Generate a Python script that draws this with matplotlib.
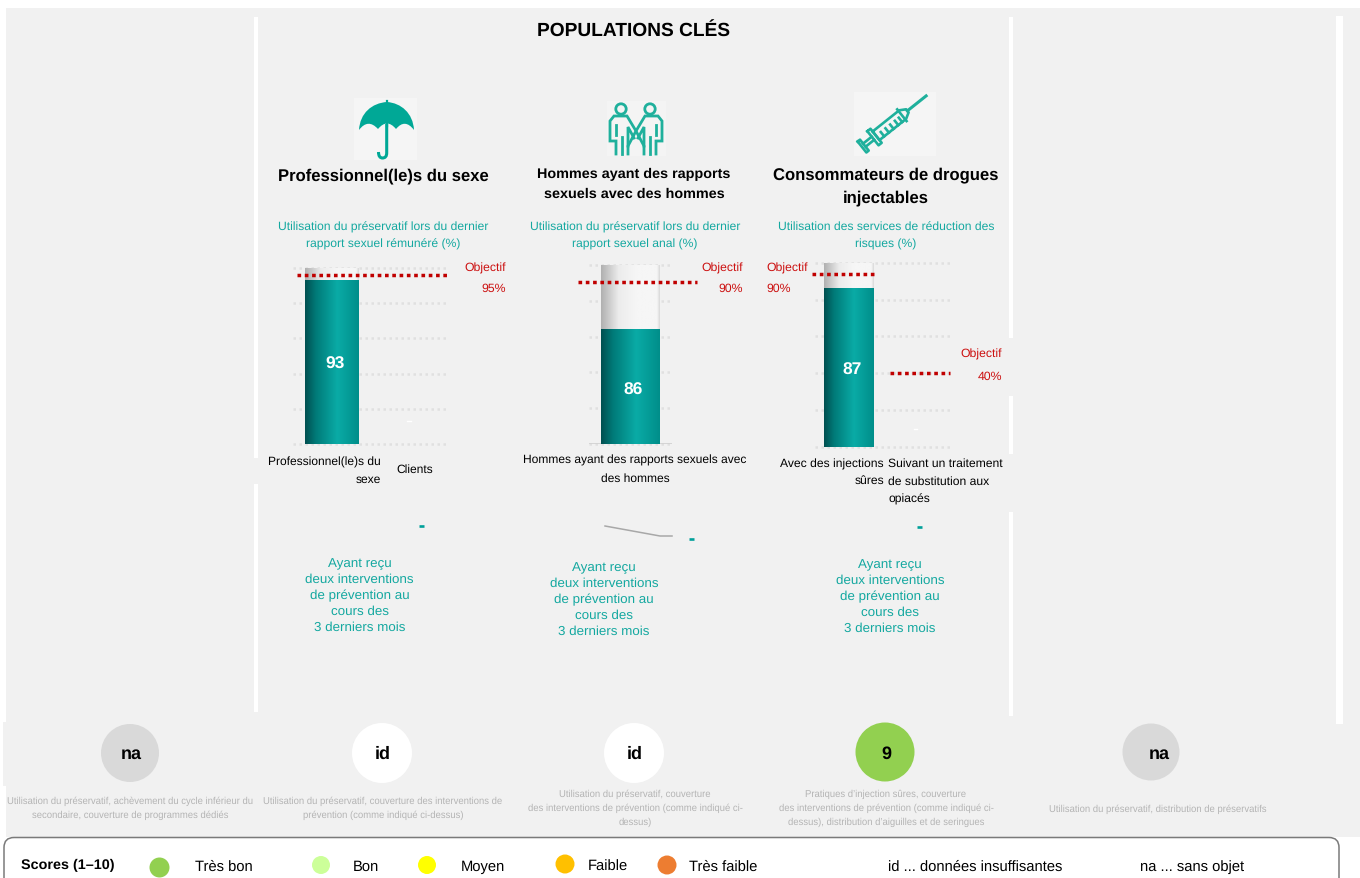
import numpy as np
import matplotlib
matplotlib.use("Agg")
import matplotlib.pyplot as plt
from matplotlib.patches import Rectangle, Circle, FancyBboxPatch, PathPatch
from matplotlib.path import Path
from matplotlib.colors import LinearSegmentedColormap

plt.rcParams['font.family'] = ['Liberation Sans', 'DejaVu Sans']
plt.rcParams['text.hinting'] = 'none'
plt.rcParams['text.hinting_factor'] = 8

W, H = 1360, 879
RED = '#c00000'

# ---------- data ----------
bar_categories = [["Professionnel(le)s du sexe", "Clients"],
                  ["Hommes ayant des rapports sexuels avec des hommes"],
                  ["Avec des injections sûres", "Suivant un traitement de substitution aux opiacés"]]
bar_heights = [[93], [64], [86.5]]          # drawn height
bar_labels = [["93"], ["86"], ["87"]]
target_heights = [[96], [90.5], [94, 40]]   # drawn height
target_labels = [["95%"], ["90%"], ["90%", "40%"]]
group_names = ["Professionnel(le)s du sexe",
               "Hommes ayant des rapports\nsexuels avec des hommes",
               "Consommateurs de drogues\ninjectables"]
score_labels = ["na", "id", "id", "9", "na"]
score_colors = ["#d9d9d9", "#ffffff", "#ffffff", "#92d050", "#d9d9d9"]
legend_names = ["Très bon", "Bon", "Moyen", "Faible", "Très faible"]
legend_colors = ["#92d050", "#ccff99", "#ffff00", "#ffc000", "#ed7d31"]

fig = plt.figure(figsize=(W / 100, H / 100), dpi=100, facecolor='white')
bg = fig.add_axes([0, 0, 1, 1], zorder=0)
bg.set_xlim(0, W); bg.set_ylim(H - 1, -1); bg.axis('off')


def rect(x0, y0, x1, y1, c, z=1, ax=bg):
    ax.add_patch(Rectangle((x0, y0), x1 - x0, y1 - y0, fc=c, ec='none', zorder=z))


def txt(x, y, s, size, c='black', ha='center', va='center', w='normal', dy=None, ax=bg, z=6):
    lines = s.split('\n')
    for i, l in enumerate(lines):
        ax.text(x, y + i * (dy or 0), l, fontsize=size, color=c, ha=ha, va=va, fontweight=w, zorder=z)


# ---------- panel ----------
rect(6, 8, 1360, 837, '#f1f1f1')
rect(3, 722, 6, 786, '#f1f1f1')
for x0, x1, y0, y1 in [(254, 258, 17, 458), (254, 258, 484, 712),
                       (1009, 1013, 17, 338), (1009, 1013, 396, 454), (1009, 1013, 512, 716),
                       (1336, 1343, 16, 724)]:
    rect(x0, y0, x1, y1, 'white', 2)

txt(634, 31, "POPULATIONS CLÉS", 13.8, w='bold')

# ---------- icons ----------
UMB = '#00a896'
rect(354, 98, 417, 160, '#f5f5f5', 2)
canopy = Path([(359, 130), (360, 113), (372, 103), (387, 102), (401, 103), (413, 113), (414, 130),
               (405, 118), (396, 129), (387, 118), (378, 129), (368, 118), (359, 130)],
              [Path.MOVETO, Path.CURVE4, Path.CURVE4, Path.CURVE4, Path.CURVE4, Path.CURVE4, Path.CURVE4,
               Path.CURVE3, Path.CURVE3, Path.CURVE3, Path.CURVE3, Path.CURVE3, Path.CURVE3])
bg.add_patch(PathPatch(canopy, fc=UMB, ec='none', zorder=3))
bg.plot([386.7, 386.7], [101, 126], color=UMB, lw=1.6, zorder=3)
handle = Path([(386.7, 124), (386.7, 153), (386.7, 158), (382.5, 158), (378.5, 158), (378.5, 152)],
              [Path.MOVETO, Path.LINETO, Path.CURVE3, Path.CURVE3, Path.CURVE3, Path.CURVE3])
bg.add_patch(PathPatch(handle, fc='none', ec=UMB, lw=2.2, zorder=3))

rect(607, 101, 666, 156, '#f4f4f4', 2)
ICON = '#1fb09c'
for cx in (621, 650):
    bg.add_patch(Circle((cx, 109), 5.2, fc='none', ec=ICON, lw=2, zorder=3))
bodylines = [
    [(616, 154), (616, 141), (610, 141), (610, 121), (614, 116), (627, 116), (636, 131), (628, 146), (628, 154)],
    [(656, 154), (656, 141), (662, 141), (662, 121), (658, 116), (645, 116), (636, 131), (644, 146), (644, 154)],
    [(622, 154), (622, 137)], [(650, 154), (650, 137)],
    [(616, 125), (616, 135)], [(656, 125), (656, 135)],
    [(628, 146), (628, 127), (634, 138)], [(644, 146), (644, 127), (638, 138)],
]
for pts in bodylines:
    p = np.array(pts)
    bg.plot(p[:, 0], p[:, 1], color=ICON, lw=2, zorder=3, solid_joinstyle='miter')

rect(854, 92, 936, 156, '#f5f5f5', 2)
o = np.array([862.0, 147.0]); u = np.array([64.0, -51.0]); u = u / np.linalg.norm(u); n = np.array([-u[1], u[0]])


def sy(t, s):
    return o + u * t + n * s


syr = [[sy(0, -7), sy(0, 7), sy(3, 7), sy(3, -7), sy(0, -7)],
       [sy(3, -2), sy(14, -2)], [sy(3, 2), sy(14, 2)],
       [sy(14, -9), sy(14, 9), sy(18, 9), sy(18, -9), sy(14, -9)],
       [sy(18, -5.5), sy(52, -5.5), sy(58, -2), sy(58, 2), sy(52, 5.5), sy(18, 5.5), sy(18, -5.5)],
       [sy(51, -7.5), sy(51, 7.5)]]
for tk in (24, 30, 36, 42, 47):
    syr.append([sy(tk, 0), sy(tk, 5.5)])
for pts in syr:
    p = np.array(pts)
    bg.plot(p[:, 0], p[:, 1], color=ICON, lw=1.9, zorder=3)
p = np.array([sy(58, 0), sy(82, 0)])
bg.plot(p[:, 0], p[:, 1], color=ICON, lw=2.2, zorder=3)

# ---------- headings ----------
txt(383, 175, group_names[0], 12, w='bold')
txt(634, 173.5, group_names[1], 10.4, w='bold', dy=20)
txt(886, 174.5, group_names[2], 11.97, w='bold', dy=23)
sub = [(383, "Utilisation du préservatif lors du dernier\nrapport sexuel rémunéré (%)"),
       (635, "Utilisation du préservatif lors du dernier\nrapport sexuel anal (%)"),
       (886, "Utilisation des services de réduction des\nrisques (%)")]
for x, s in sub:
    txt(x, 226, s, 8.75, c='#14a8a0', dy=17)

# ---------- bar charts ----------
teal_cm = LinearSegmentedColormap.from_list('t', [(0, '#004f50'), (.2, '#007a78'), (.6, '#0aaba6'), (1, '#008e8a')])
back_cm = LinearSegmentedColormap.from_list('g', [(0, '#b0b0b0'), (.3, '#ececec'), (.6, '#f6f6f6'), (.95, '#f6f6f6'), (1, '#d8d8d8')])
grad = np.linspace(0, 1, 256).reshape(1, -1)

axes_px = [(293, 447, 269, 445), (589, 672, 266, 445), (815, 951, 264, 447.7)]
bar_w = [0.69, 0.71, 0.735]
target_px = [[(297, 447)], [(578, 697)], [(812, 874), (890, 950)]]
label_y = [364, 390, 370]
for i, (x0, x1, y0, y1) in enumerate(axes_px):
    ax = fig.add_axes([x0 / W, 1 - y1 / H, (x1 - x0) / W, (y1 - y0) / H], zorder=3)
    ax.patch.set_alpha(0)
    n_cat = len(bar_categories[i])
    xlim = (-0.5, n_cat - 0.5)
    ax.set_xlim(*xlim); ax.set_ylim(0, 100)
    ax.set_yticks(range(0, 101, 20)); ax.set_xticks(range(n_cat))
    ax.tick_params(length=0, labelleft=False, labelbottom=False)
    for s in ax.spines.values():
        s.set_visible(False)
    ax.grid(axis='y', color='#e0e0e0', lw=1.8, ls=(0, (1, 1.4)), zorder=0, clip_on=False)
    ax.grid(axis='x', visible=False)
    ax.set_axisbelow(True)
    xs = np.arange(len(bar_heights[i]))
    for xv, h in zip(xs, bar_heights[i]):
        bk = ax.bar(xv, 100, width=bar_w[i], color='none', zorder=2)[0]
        im = ax.imshow(grad, cmap=back_cm, aspect='auto', zorder=2,
                       extent=(xv - bar_w[i] / 2, xv + bar_w[i] / 2, 0, 100))
        im.set_clip_path(bk)
        fr = ax.bar(xv, h, width=bar_w[i], color='none', zorder=3)[0]
        im2 = ax.imshow(grad, cmap=teal_cm, aspect='auto', zorder=3,
                        extent=(xv - bar_w[i] / 2, xv + bar_w[i] / 2, 0, 100))
        im2.set_clip_path(fr)
    ax.set_xlim(*xlim); ax.set_ylim(0, 100)
    for t, (tx0, tx1) in zip(target_heights[i], target_px[i]):
        sc = (xlim[1] - xlim[0]) / (x1 - x0)
        ax.plot([xlim[0] + (tx0 - x0) * sc, xlim[0] + (tx1 - x0) * sc], [t, t], color=RED, lw=2.5,
                ls=(0, (1.05, 1.05)), clip_on=False, zorder=5, dash_capstyle='butt')
    if i == 1:
        ax.axhline(0, color='#d0d0d0', lw=1.2, zorder=1)
    txt(0.04 if i != 1 else 0.03, (y1 - label_y[i]) / (y1 - y0) * 100, bar_labels[i][0], 12.5, c='white',
        w='bold', ax=ax)

# faint white artefacts in the plot areas
bg.plot([407, 411], [421, 421], color='white', lw=1, zorder=3)
bg.plot([914, 917], [429, 429], color='white', lw=1, zorder=3)

# objective labels
OBJ = '#cc1111'
for x, ha, y0, pct in [(506, 'right', 267, target_labels[0][0]), (743, 'right', 267, target_labels[1][0]),
                       (766, 'left', 267, target_labels[2][0]), (1002, 'right', 353, target_labels[2][1])]:
    txt(x, y0, "Objectif", 8.8, c=OBJ, ha=ha)
    txt(x, y0 + (21 if y0 < 300 else 23), pct, 8.8, c=OBJ, ha=ha)

# category labels
txt(381, 461.5, "Professionnel(le)s du\nsexe", 8.65, ha='right', dy=17)
txt(396, 469, bar_categories[0][1], 8.65, ha='left')
txt(635, 459.5, "Hommes ayant des rapports sexuels avec\ndes hommes", 8.65, dy=18)
txt(884, 463, "Avec des injections\nsûres", 8.7, ha='right', dy=17)
txt(888, 463, "Suivant un traitement\nde substitution aux\nopiacés", 8.7, ha='left', dy=17.5)

# ---------- dashes and intervention text ----------
for x, y in [(421.5, 526), (691, 539), (919, 527)]:
    bg.plot([x - 2.5, x + 2.5], [y, y], color='#00a09a', lw=1.9, zorder=4, solid_capstyle='butt')
bg.plot([605, 660, 672], [526, 536, 536], color='#a8a8a8', lw=1.1, zorder=4)
inter = "Ayant reçu\ndeux interventions\nde prévention au\ncours des\n3 derniers mois"
for x, y in [(359.5, 562.5), (604, 566.5), (890, 563.5)]:
    txt(x, y, inter, 9.65, c='#14a8a0', dy=16.1)

# ---------- scores ----------
score_pos = [(130, 753, 29), (382, 753, 30), (634, 753, 30), (885, 752, 29.5), (1151, 752, 28.5)]
score_text_x = [131, 383, 635, 886.5, 1159]
for (x, y, r), s, c, tx in zip(score_pos, score_labels, score_colors, score_text_x):
    bg.add_patch(Circle((x, y), r, fc=c, ec='none', zorder=3))
    txt(tx, 753, s, 13, w='bold')

GREY = '#b4b4b4'
GS = 6.85
txt(130.5, 800, "Utilisation du préservatif, achèvement du cycle inférieur du\nsecondaire, couverture de programmes dédiés", GS, c=GREY, dy=14.5)
txt(383, 800, "Utilisation du préservatif, couverture des interventions de\nprévention (comme indiqué ci-dessus)", GS, c=GREY, dy=14.5)
txt(635, 793.5, "Utilisation du préservatif, couverture\ndes interventions de prévention (comme indiqué ci-\ndessus)", GS, c=GREY, dy=14)
txt(886, 793.5, "Pratiques d’injection sûres, couverture\ndes interventions de prévention (comme indiqué ci-\ndessus), distribution d’aiguilles et de seringues", GS, c=GREY, dy=14)
txt(1158, 808, "Utilisation du préservatif, distribution de préservatifs", GS, c=GREY)

# ---------- legend ----------
bg.add_patch(FancyBboxPatch((4, 837.5), 1335, 80, boxstyle="round,pad=0,rounding_size=10",
                            fc='white', ec='#7a7a7a', lw=1.1, zorder=4))
txt(21, 864, "Scores (1–10)", 10.4, ha='left', w='bold')
leg_c = [(159.5, 867.5, 10), (321, 865, 9), (427, 865, 9), (565, 864, 9.5), (667, 865, 9.5)]
leg_t = [195, 353, 461, 588, 689]
for (x, y, r), c, tx, nm in zip(leg_c, legend_colors, leg_t, legend_names):
    bg.add_patch(Circle((x, y), r, fc=c, ec='none', zorder=5))
    txt(tx, 866, nm, 10.6, ha='left')
txt(888, 866, "id ... données insuffisantes", 10.6, ha='left')
txt(1140, 866, "na ... sans objet", 10.6, ha='left')

fig.savefig('out.png', dpi=100)
